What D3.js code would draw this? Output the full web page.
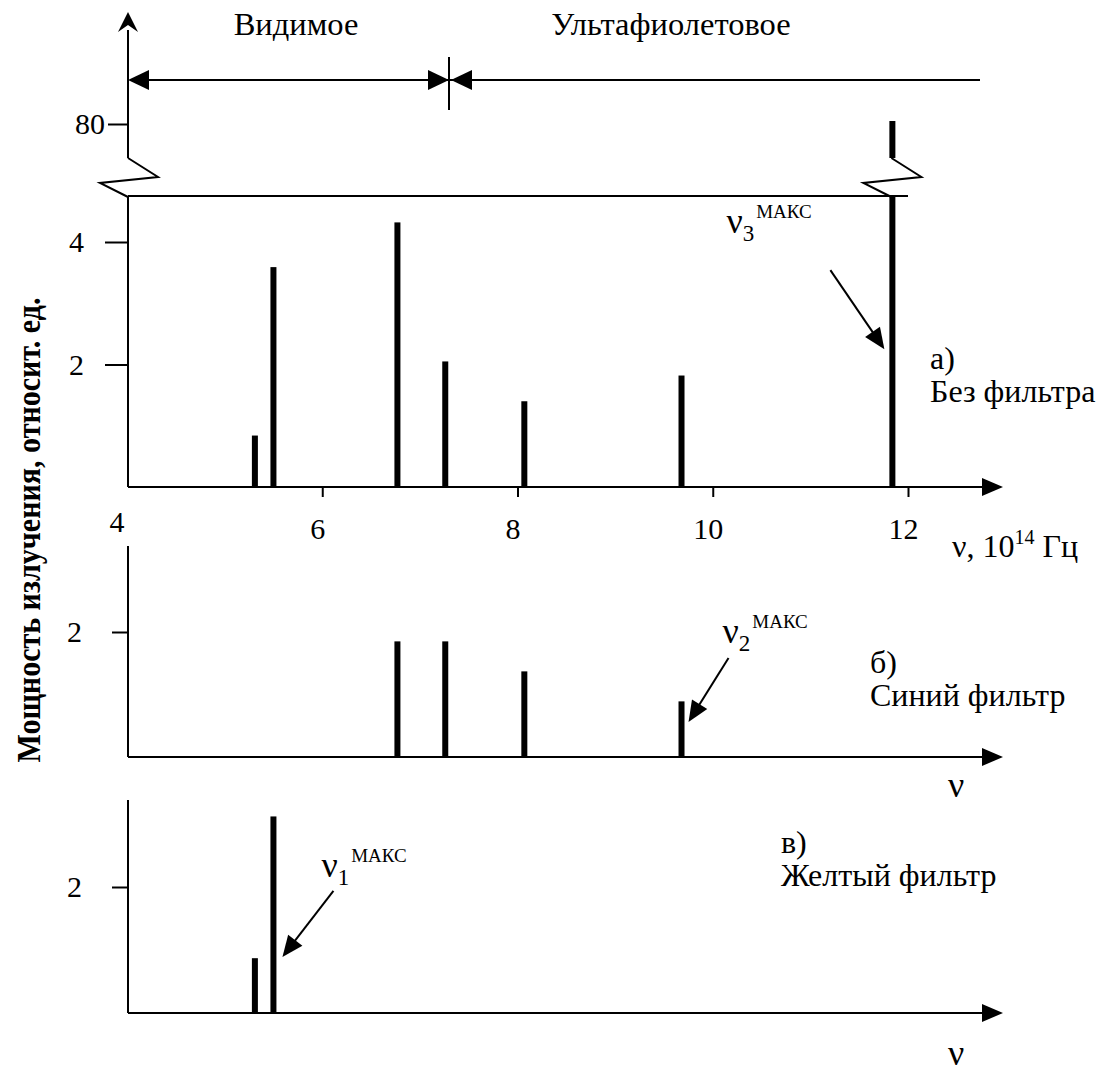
<!DOCTYPE html>
<html>
<head>
<meta charset="utf-8">
<script src="https://cdn.jsdelivr.net/npm/d3@7"></script>
<style>
body { margin: 0; background: #fff; }
svg text { font-family: "Liberation Serif", "DejaVu Serif", serif; fill: #000; }
</style>
</head>
<body>
<script>
// линии спектра, частота в 10^14 Гц, мощность в относит. ед.
var freqAll = [5.31, 5.50, 6.77, 7.26, 8.07, 9.68, 11.84];
var powerAll = [0.84, 3.59, 4.32, 2.05, 1.40, 1.82, 80.15];
var freqBlue = [6.77, 7.26, 8.07, 9.68];
var powerBlue = [1.85, 1.85, 1.37, 0.89];
var freqYellow = [5.31, 5.50];
var powerYellow = [0.87, 3.12];
var xTicks = [6, 8, 10, 12];
var yTicksA = [2, 4];
var yTicksTop = [80];
var yTicksB = [2];
var yTicksC = [2];

var W = 1101, H = 1072;
var X0 = 128, XEND = 1003;
var BAR_W = 6;
var BREAK_LO = 196, BREAK_HI = 158;
var FONT = '"Liberation Serif", "DejaVu Serif", serif';

var svg = d3.select('body').append('svg').attr('width', W).attr('height', H)
    .attr('font-family', FONT);

var x = d3.scaleLinear().domain([4, 12]).range([127, 908]);
var yA = d3.scaleLinear().domain([0, 4]).range([487, 242]);
var yTop = d3.scaleLinear().domain([79, 81]).range([144, 104]);
var yB = d3.scaleLinear().domain([0, 2]).range([757, 632]);
var yC = d3.scaleLinear().domain([0, 2]).range([1013, 887]);

function head(g, tx, ty, ang, len, half) {
    var ux = Math.cos(ang), uy = Math.sin(ang);
    var bx = tx - ux * len, by = ty - uy * len;
    g.append('path')
        .attr('d', 'M' + tx + ',' + ty + 'L' + (bx - uy * half) + ',' + (by + ux * half) +
            'L' + (bx + uy * half) + ',' + (by - ux * half) + 'Z')
        .attr('fill', '#000');
}

function arrow(g, x1, y1, x2, y2) {
    var ang = Math.atan2(y2 - y1, x2 - x1), len = 21;
    g.append('line')
        .attr('x1', x1).attr('y1', y1)
        .attr('x2', x2 - Math.cos(ang) * len * 0.8).attr('y2', y2 - Math.sin(ang) * len * 0.8)
        .attr('stroke', '#000').attr('stroke-width', 2);
    head(g, x2, y2, ang, len, 9);
}

function zig(cx) {
    return 'M' + cx + ',' + BREAK_HI + 'L' + (cx + 30) + ',' + (BREAK_HI + 19) +
        'L' + (cx - 28) + ',' + (BREAK_HI + 25) + 'L' + cx + ',' + (BREAK_LO + 1);
}

function hline(y) {
    svg.append('line').attr('x1', X0).attr('x2', XEND - 15).attr('y1', y).attr('y2', y)
        .attr('stroke', '#000').attr('stroke-width', 2);
    head(svg, XEND, y, 0, 21, 9);
}

function vline(y1, y2) {
    svg.append('line').attr('x1', X0).attr('x2', X0).attr('y1', y1).attr('y2', y2)
        .attr('stroke', '#000').attr('stroke-width', 2);
}

function yAxis(scale, ticks, size, pad) {
    var g = svg.append('g').attr('transform', 'translate(' + X0 + ',0)')
        .call(d3.axisLeft(scale).tickValues(ticks).tickFormat(d3.format('d'))
            .tickSize(size).tickPadding(pad));
    g.attr('font-family', FONT).attr('font-size', 30);
    g.select('.domain').remove();
    g.selectAll('line').attr('stroke', '#000').attr('stroke-width', 2);
    g.selectAll('text').attr('fill', '#000');
    return g;
}

function bars(freq, power, y, maxV) {
    freq.forEach(function (f, i) {
        var v = Math.min(power[i], maxV);
        svg.append('rect')
            .attr('x', x(f) - BAR_W / 2).attr('width', BAR_W)
            .attr('y', y(v)).attr('height', y(0) - y(v))
            .attr('fill', '#000');
        if (power[i] > maxV) {
            svg.append('rect')
                .attr('x', x(f) - BAR_W / 2).attr('width', BAR_W)
                .attr('y', yTop(power[i])).attr('height', BREAK_HI - yTop(power[i]))
                .attr('fill', '#000');
            svg.append('path').attr('d', zig(x(f) - 1)).attr('fill', 'none')
                .attr('stroke', '#000').attr('stroke-width', 2);
        }
    });
}

// ---- панель а) ----
vline(BREAK_LO, yA(0));
vline(BREAK_HI, 30);
svg.append('path')
    .attr('d', 'M' + X0 + ',12L' + (X0 - 10) + ',32L' + X0 + ',25L' + (X0 + 10) + ',32Z')
    .attr('fill', '#000');
svg.append('path').attr('d', zig(X0)).attr('fill', 'none')
    .attr('stroke', '#000').attr('stroke-width', 2);
svg.append('line').attr('x1', X0).attr('x2', 908).attr('y1', BREAK_LO).attr('y2', BREAK_LO)
    .attr('stroke', '#000').attr('stroke-width', 2);
hline(yA(0));

yAxis(yA, yTicksA, 23, 21);
yAxis(yTop, yTicksTop, 20, 3);

var gx = svg.append('g').attr('transform', 'translate(0,' + yA(0) + ')')
    .call(d3.axisBottom(x).tickValues(xTicks).tickSize(10));
gx.attr('font-family', FONT).attr('font-size', 30);
gx.select('.domain').remove();
gx.selectAll('line').attr('stroke', '#000').attr('stroke-width', 2);
gx.selectAll('text').attr('fill', '#000')
    .attr('dy', null).attr('y', 52).attr('dx', -5);
svg.append('text').attr('x', x(4) - 10).attr('y', yA(0) + 45)
    .attr('text-anchor', 'middle').attr('font-size', 30).text('4');

var axLab = svg.append('text').attr('x', 952).attr('y', 557).attr('font-size', 32);
axLab.append('tspan').text('ν, 10');
axLab.append('tspan').attr('font-size', 20).attr('dy', -13).text('14');
axLab.append('tspan').attr('dy', 13).text(' Гц');

bars(freqAll, powerAll, yA, yA.invert(BREAK_LO));

// диапазоны
var gr = svg.append('g');
gr.append('line').attr('x1', X0 + 15).attr('x2', 980).attr('y1', 80).attr('y2', 80)
    .attr('stroke', '#000').attr('stroke-width', 2);
head(gr, X0, 80, Math.PI, 21, 10);
head(gr, 449, 80, 0, 21, 10);
head(gr, 451, 80, Math.PI, 21, 10);
gr.append('line').attr('x1', 449).attr('x2', 449).attr('y1', 57).attr('y2', 110)
    .attr('stroke', '#000').attr('stroke-width', 2);
svg.append('text').attr('x', 296).attr('y', 35).attr('text-anchor', 'middle')
    .attr('font-size', 32.5).text('Видимое');
svg.append('text').attr('x', 671).attr('y', 35).attr('text-anchor', 'middle')
    .attr('font-size', 32.5).text('Ультафиолетовое');

// ---- панель б) ----
vline(546, yB(0));
hline(yB(0));
yAxis(yB, yTicksB, 16, 30);
bars(freqBlue, powerBlue, yB, 100);

// ---- панель в) ----
vline(800, yC(0));
hline(yC(0));
yAxis(yC, yTicksC, 16, 30);
bars(freqYellow, powerYellow, yC, 100);

// подписи осей
svg.append('text')
    .attr('transform', 'translate(40,530) rotate(-90)')
    .attr('text-anchor', 'middle').attr('font-size', 34).attr('font-weight', 'bold')
    .attr('textLength', 465).attr('lengthAdjust', 'spacingAndGlyphs')
    .text('Мощность излучения, относит. ед.');
svg.append('text').attr('x', 948).attr('y', 797).attr('font-size', 36).text('ν');
svg.append('text').attr('x', 948).attr('y', 1065).attr('font-size', 36).text('ν');

// подписи панелей
function panelLabel(px, py, a, b) {
    svg.append('text').attr('x', px).attr('y', py).attr('font-size', 32).text(a);
    svg.append('text').attr('x', px).attr('y', py + 33).attr('font-size', 32).text(b);
}
panelLabel(930, 369, 'а)', 'Без фильтра');
panelLabel(870, 673, 'б)', 'Синий фильтр');
panelLabel(781, 853, 'в)', 'Желтый фильтр');

// максимумы
function numax(tx, ty, dx, dy) {
    arrow(svg, tx + dx, ty + dy, tx, ty);
}
function nuLabel(lx, ly, idx) {
    var t = svg.append('text').attr('x', lx).attr('y', ly).attr('font-size', 36);
    t.append('tspan').text('ν');
    t.append('tspan').attr('font-size', 23).attr('dy', 8).text(idx);
    t.append('tspan').attr('font-size', 19).attr('dy', -23).attr('dx', 2).text('МАКС');
}
var t3x = x(freqAll[6]) - 8, t3y = yA(2.25);
numax(t3x, t3y, -54, -79);
nuLabel(t3x - 158, t3y - 116, '3');
var t2x = x(freqBlue[3]) + 7, t2y = yB(0.56);
numax(t2x, t2y, 40, -64);
nuLabel(t2x + 34, t2y - 79, '2');
var t1x = x(freqYellow[1]) + 9, t1y = yC(0.89);
numax(t1x, t1y, 51, -66);
nuLabel(t1x + 39, t1y - 80, '1');
</script>
</body>
</html>
